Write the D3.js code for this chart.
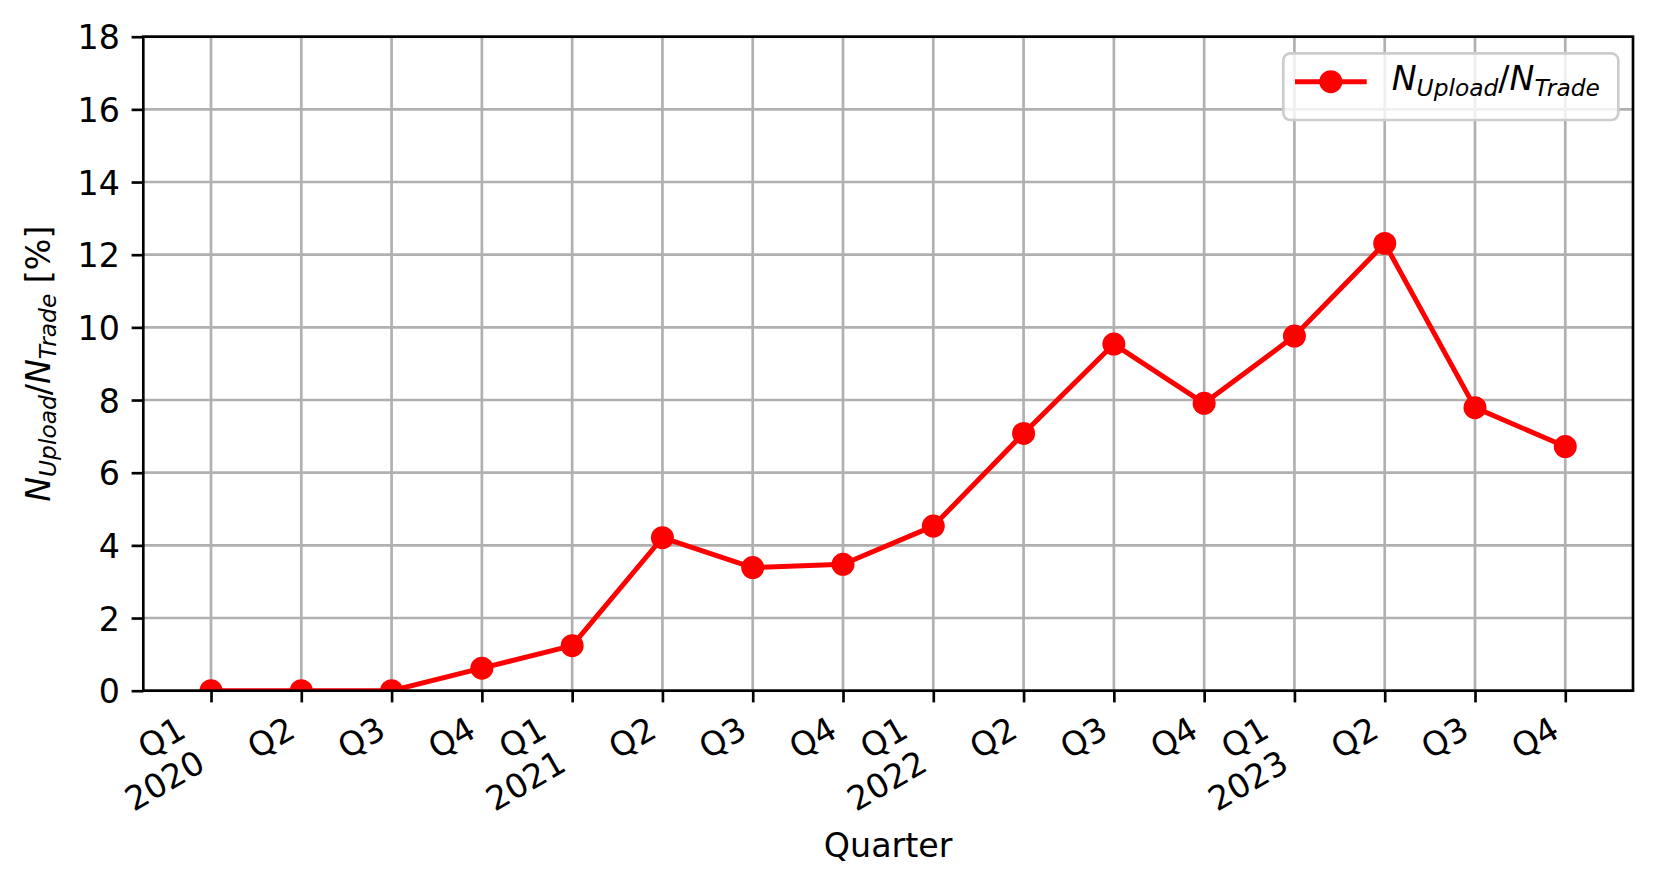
<!DOCTYPE html>
<html>
<head>
<meta charset="utf-8">
<script src="https://cdn.jsdelivr.net/npm/d3@7"></script>
<style>
  body { margin: 0; background: #fff; }
  svg { display: block; font-family: "DejaVu Sans", sans-serif; }
</style>
</head>
<body>
<div id="chart"></div>
<script>
// quarter labels, year shown under Q1 only
var quarterNames = ["Q1", "Q2", "Q3", "Q4", "Q1", "Q2", "Q3", "Q4",
                    "Q1", "Q2", "Q3", "Q4", "Q1", "Q2", "Q3", "Q4"];
var yearNames = ["2020", "", "", "", "2021", "", "", "",
                 "2022", "", "", "", "2023", "", "", ""];
// N_Upload / N_Trade in %
var shareValues = [0, 0, 0, 0.62, 1.24, 4.21, 3.39, 3.48,
                   4.53, 7.08, 9.54, 7.91, 9.76, 12.31, 7.79, 6.72];
var yTicks = [0, 2, 4, 6, 8, 10, 12, 14, 16, 18];

var width = 1659, height = 887;
// plot box (window.top is reserved, so prefixed names)
var axLeft = 143.3, axRight = 1633, axTop = 36.7, axBottom = 690.7;
var fs = 33.3;          // 10pt at this dpi
var lw = 2.67;          // 0.8pt
var tickLen = 11.7, tickPad = 11.7;

var x = d3.scaleLinear().domain([-0.75, quarterNames.length - 0.25]).range([axLeft, axRight]);
var y = d3.scaleLinear().domain([0, 18]).range([axBottom, axTop]);

var svg = d3.select("#chart").append("svg")
  .attr("width", width)
  .attr("height", height);

svg.append("rect").attr("width", width).attr("height", height).attr("fill", "#fff");

svg.append("clipPath").attr("id", "plotclip")
  .append("rect")
  .attr("x", axLeft).attr("y", axTop)
  .attr("width", axRight - axLeft).attr("height", axBottom - axTop);

// grid
var grid = svg.append("g");
grid.selectAll(".vgrid")
  .data(d3.range(quarterNames.length))
  .enter().append("line")
  .attr("x1", function (d) { return x(d); })
  .attr("x2", function (d) { return x(d); })
  .attr("y1", axTop).attr("y2", axBottom)
  .attr("stroke", "#b0b0b0").attr("stroke-width", lw);
grid.selectAll(".hgrid")
  .data(yTicks)
  .enter().append("line")
  .attr("x1", axLeft).attr("x2", axRight)
  .attr("y1", function (d) { return y(d); })
  .attr("y2", function (d) { return y(d); })
  .attr("stroke", "#b0b0b0").attr("stroke-width", lw);

// series
var plot = svg.append("g").attr("clip-path", "url(#plotclip)");
var line = d3.line()
  .x(function (d, i) { return x(i); })
  .y(function (d) { return y(d); });
plot.append("path")
  .datum(shareValues)
  .attr("d", line)
  .attr("fill", "none")
  .attr("stroke", "red")
  .attr("stroke-width", 5)
  .attr("stroke-linejoin", "round");
plot.selectAll("circle")
  .data(shareValues)
  .enter().append("circle")
  .attr("cx", function (d, i) { return x(i); })
  .attr("cy", function (d) { return y(d); })
  .attr("r", 11.5)
  .attr("fill", "red");

// axes
var xAxis = svg.append("g")
  .attr("transform", "translate(0," + axBottom + ")")
  .call(d3.axisBottom(x).tickValues(d3.range(quarterNames.length)).tickSize(tickLen).tickFormat(""));
var yAxis = svg.append("g")
  .attr("transform", "translate(" + axLeft + ",0)")
  .call(d3.axisLeft(y).tickValues(yTicks).tickSize(tickLen).tickPadding(tickPad));
[xAxis, yAxis].forEach(function (ax) {
  ax.select(".domain").remove();
  ax.selectAll(".tick line").attr("stroke", "#000").attr("stroke-width", lw);
});
yAxis.selectAll(".tick text")
  .attr("font-size", fs)
  .attr("font-family", "DejaVu Sans")
  .attr("fill", "#000")
  .attr("dy", "0.36em");

// spines
svg.append("rect")
  .attr("x", axLeft).attr("y", axTop)
  .attr("width", axRight - axLeft).attr("height", axBottom - axTop)
  .attr("fill", "none").attr("stroke", "#000").attr("stroke-width", lw);

// rotated x tick labels (30deg, right aligned, matplotlib-like box)
var labelTop = axBottom + tickLen + tickPad;
var ang = 30 * Math.PI / 180;
var lineStep = 38.7;
quarterNames.forEach(function (q, i) {
  var g = svg.append("g");
  var t = g.append("text")
    .attr("text-anchor", "end")
    .attr("font-size", fs)
    .attr("fill", "#000");
  var lines = yearNames[i] ? [q, yearNames[i]] : [q];
  var spans = lines.map(function (s, k) {
    return t.append("tspan").attr("x", 0).attr("y", k * lineStep).text(s);
  });
  var w = d3.max(spans, function (s) { return s.node().getComputedTextLength(); });
  var bx = -w, by = -0.76 * fs, bw = w, bh = 0.76 * fs + (lines.length - 1) * lineStep + 0.236 * fs;
  var corners = [[bx, by], [bx + bw, by], [bx, by + bh], [bx + bw, by + bh]]
    .map(function (p) {
      return [p[0] * Math.cos(ang) + p[1] * Math.sin(ang), -p[0] * Math.sin(ang) + p[1] * Math.cos(ang)];
    });
  var maxX = d3.max(corners, function (p) { return p[0]; });
  var minY = d3.min(corners, function (p) { return p[1]; });
  g.attr("transform", "translate(" + (x(i) - maxX) + "," + (labelTop - minY) + ") rotate(-30)");
});

// mathtext-like label N_Upload/N_Trade
function mathLabel(t, suffix) {
  var sub = fs * 0.7, shift = 6;
  t.append("tspan").attr("font-style", "italic").text("N");
  t.append("tspan").attr("font-style", "italic").attr("font-size", sub).attr("dy", shift).text("Upload");
  t.append("tspan").attr("dy", -shift).text("/");
  t.append("tspan").attr("font-style", "italic").text("N");
  t.append("tspan").attr("font-style", "italic").attr("font-size", sub).attr("dy", shift).text("Trade");
  if (suffix) t.append("tspan").attr("dy", -shift).text(suffix);
}

svg.append("text")
  .attr("x", (axLeft + axRight) / 2)
  .attr("y", 856.7)
  .attr("text-anchor", "middle")
  .attr("font-size", fs)
  .text("Quarter");

var yl = svg.append("text")
  .attr("transform", "translate(50," + ((axTop + axBottom) / 2) + ") rotate(-90)")
  .attr("text-anchor", "middle")
  .attr("font-size", fs);
mathLabel(yl, "\u00a0[%]");

// legend
var legend = svg.append("g");
legend.append("rect")
  .attr("x", 1283.3).attr("y", 53.3)
  .attr("width", 335).attr("height", 66.7)
  .attr("rx", 7)
  .attr("fill", "#fff").attr("fill-opacity", 0.8)
  .attr("stroke", "#cccccc").attr("stroke-width", lw);
legend.append("line")
  .attr("x1", 1295).attr("x2", 1366.7)
  .attr("y1", 81.7).attr("y2", 81.7)
  .attr("stroke", "red").attr("stroke-width", 5);
legend.append("circle")
  .attr("cx", 1330.8).attr("cy", 81.7).attr("r", 11.5)
  .attr("fill", "red");
var lt = legend.append("text")
  .attr("x", 1391.7).attr("y", 90)
  .attr("font-size", fs);
mathLabel(lt, null);
</script>
</body>
</html>
